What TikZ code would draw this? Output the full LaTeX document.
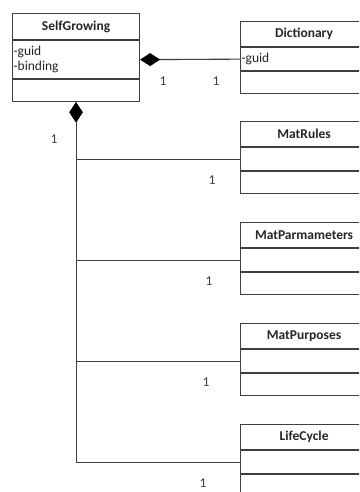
\documentclass[tikz,border=0pt]{standalone}
\usepackage{fontspec}
\setmainfont{Carlito}
\usetikzlibrary{positioning,arrows.meta}

\definecolor{linegray}{HTML}{3F3F3F}
\definecolor{textgray}{HTML}{262626}

\tikzset{
    umlbox/.style={draw=linegray, line width=1.1pt, minimum width=127pt, inner sep=1pt,
        text=textgray, font=\fontsize{13.5}{15.5}\selectfont},
    umltitle/.style={umlbox, anchor=north west, minimum height=25pt,
        font=\fontsize{13.5}{15.5}\selectfont\bfseries},
    umlpart/.style={umlbox, text width=125pt, align=left, minimum height=23pt},
    comp/.style={draw=linegray, line width=1.1pt, {Diamond[length=20pt,width=13pt,black]}-},
    mult/.style={text=linegray, inner sep=0pt, font=\fontsize{13.5}{15.5}\selectfont},
}

\begin{document}
\begin{tikzpicture}[x=1pt, y=-1pt]
\path[use as bounding box, clip] (0,0) rectangle (359,492);
\fill[white] (0,0) rectangle (359,492);

% owner class
\node[umltitle, minimum height=26pt] (self-t) at (12,13) {SelfGrowing};
\node[umlpart, minimum height=38pt, below=0pt of self-t] (self-a) {-guid\\-binding};
\node[umlpart, minimum height=22pt, below=0pt of self-a] (self-m) {};

% dictionary
\node[umltitle] (dict-t) at (240,21) {Dictionary};
\node[umlpart, below=0pt of dict-t] (dict-a) {-guid};
\node[umlpart, minimum height=22pt, below=0pt of dict-a] (dict-m) {};
\draw[comp] (self-a.east) -- (dict-a.west);
\node[mult] (dict-n1) at (163,81) {1};
\node[mult] (dict-n2) at (216,81) {1};

% composed parts down the side
\foreach \nm/\ttl [count=\i] in {rules/MatRules, parm/MatParmameters, purp/MatPurposes, life/LifeCycle} {
    \node[umltitle] (\nm-t) at (240,20+101*\i) {\ttl};
    \node[umlpart, below=0pt of \nm-t] (\nm-a) {};
    \node[umlpart, minimum height=22pt, below=0pt of \nm-a] (\nm-m) {};
    \draw[comp] (self-m.south) |- (\nm-a.west);
    \node[mult] (\nm-n) at (215-3*\i,79+101*\i) {1};
}
\node[mult] (self-n) at (54,139) {1};

\end{tikzpicture}
\end{document}
